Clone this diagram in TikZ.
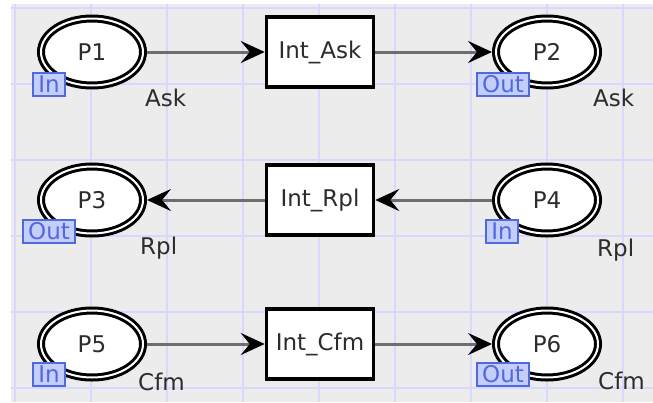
\documentclass[tikz,border=0pt]{standalone}
\usepackage{fontspec}
\setmainfont{DejaVu Sans}
\usetikzlibrary{arrows.meta,shapes.geometric,positioning}
\definecolor{gridblue}{RGB}{216,216,255}
\definecolor{canvas}{RGB}{236,236,236}
\definecolor{tagblue}{RGB}{82,104,222}
\definecolor{tagfill}{RGB}{196,206,250}
\definecolor{arcgray}{RGB}{110,110,110}
\definecolor{ink}{RGB}{44,44,44}
\tikzset{
  place/.style={ellipse, draw=black, double=white, double distance=2pt, line width=3pt,
    fill=white, minimum width=102pt, minimum height=67pt, inner sep=0pt, outer sep=4pt, text=ink},
  trans/.style={rectangle, draw=black, line width=3.5pt, fill=white,
    minimum width=107pt, minimum height=70pt, inner sep=0pt, text=ink},
  tagbox/.style={rectangle, draw=tagblue, fill=tagfill, text=tagblue, line width=2pt,
    inner xsep=5pt, inner ysep=0pt, minimum height=23pt},
  colset/.style={anchor=west, text=ink, inner sep=0pt},
  arc/.style={draw=arcgray, line width=3pt, -{Stealth[length=24pt,width=22pt,inset=9pt,black]}}
}
\begin{document}
\begin{tikzpicture}[x=1pt, y=-1pt, font=\fontsize{23}{27}\selectfont]
\useasboundingbox (0,0) rectangle (653,402);
% canvas and grid
\fill[canvas] (11,4) rectangle (653,402);
\foreach \gx in {15,91,...,623} \draw[gridblue, line width=1.5pt] (\gx,4)--(\gx,402);
\foreach \gy in {8,84,...,388} \draw[gridblue, line width=1.5pt] (11,\gy)--(653,\gy);
% places
\node[place] (p1) at (92,52) {P1};
\node[place] (p2) at (547,52) {P2};
\node[place] (p3) at (92,200) {P3};
\node[place] (p4) at (547,200) {P4};
\node[place] (p5) at (92,344) {P5};
\node[place] (p6) at (547,344) {P6};
% transitions
\node[trans] (ask) at (320,52) {Int\_Ask};
\node[trans] (rpl) at (320,200) {Int\_Rpl};
\node[trans] (cfm) at (320,344) {Int\_Cfm};
% port tags
\node[tagbox] (p1tag) at ([shift={(-43,32)}]p1.center) {In};
\node[tagbox] (p2tag) at ([shift={(-44,32)}]p2.center) {Out};
\node[tagbox] (p3tag) at ([shift={(-43,31)}]p3.center) {Out};
\node[tagbox] (p4tag) at ([shift={(-45,31)}]p4.center) {In};
\node[tagbox] (p5tag) at ([shift={(-43,30)}]p5.center) {In};
\node[tagbox] (p6tag) at ([shift={(-44,30)}]p6.center) {Out};
% colour sets
\node[colset] (p1col) at (145,98) {Ask};
\node[colset] (p2col) at (593,98) {Ask};
\node[colset] (p3col) at (140,248) {Rpl};
\node[colset] (p4col) at (597,250) {Rpl};
\node[colset] (p5col) at (138,382) {Cfm};
\node[colset] (p6col) at (598,381) {Cfm};
% arcs
\draw[arc] (p1) -- (ask);
\draw[arc] (ask) -- (p2);
\draw[arc] (p4) -- (rpl);
\draw[arc] (rpl) -- (p3);
\draw[arc] (p5) -- (cfm);
\draw[arc] (cfm) -- (p6);
\end{tikzpicture}
\end{document}
